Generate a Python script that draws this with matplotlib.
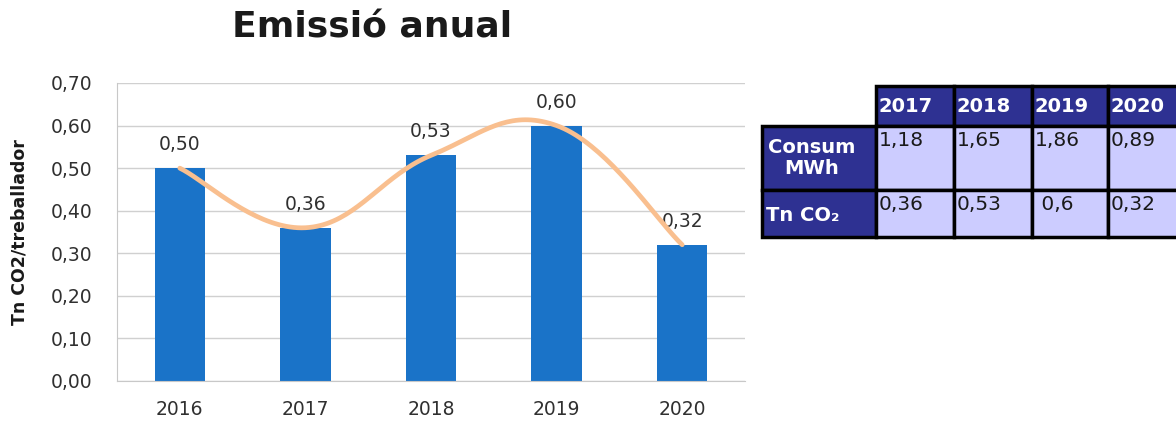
import numpy as np
import matplotlib.pyplot as plt
from matplotlib.patches import Rectangle

# chart data
years = ["2016", "2017", "2018", "2019", "2020"]
emissions = [0.50, 0.36, 0.53, 0.60, 0.32]

# table data
table_years = ["2017", "2018", "2019", "2020"]
row_labels = ["Consum\nMWh", "Tn CO\u2082"]
consum = ["1,18", "1,65", "1,86", "0,89"]
co2 = ["0,36", "0,53", " 0,6", "0,32"]


def fmt(v):
    return f"{v:.2f}".replace(".", ",")


def smooth(xs, ys, n=40, k=5.0):
    # Excel-like smoothed line (Catmull-Rom as cubic Bezier)
    pts = np.column_stack([xs, ys]).astype(float)
    out = []
    for i in range(len(pts) - 1):
        p0 = pts[i - 1] if i > 0 else pts[i]
        p1, p2 = pts[i], pts[i + 1]
        p3 = pts[i + 2] if i + 2 < len(pts) else pts[i + 1]
        c1 = p1 + (p2 - p0) / k
        c2 = p2 - (p3 - p1) / k
        t = np.linspace(0, 1, n)[:, None]
        seg = ((1 - t) ** 3) * p1 + 3 * ((1 - t) ** 2) * t * c1 + 3 * (1 - t) * t ** 2 * c2 + t ** 3 * p2
        out.append(seg)
    out = np.vstack(out)
    return out[:, 0], out[:, 1]


fig = plt.figure(figsize=(11.76, 4.24), dpi=100)
ax = fig.add_axes([117 / 1176, 43 / 424, 628 / 1176, 298 / 424])

x = np.arange(len(years))
ax.bar(x, emissions, width=0.4, color="#1a73c8", zorder=2)
for xi, v in zip(x, emissions):
    ax.annotate(fmt(v), (xi, v), xytext=(0, 10), textcoords="offset points",
                ha="center", va="bottom", fontsize=13.5, color="#303030", zorder=3)
sx, sy = smooth(x, emissions)
ax.plot(sx, sy, color="#f9bf8f", lw=3.4, solid_capstyle="round", zorder=4)

ax.set_xlim(-0.5, len(years) - 0.5)
ax.set_ylim(0, 0.70)
ax.set_yticks(np.arange(0, 0.71, 0.1))
ax.set_yticklabels([fmt(v) for v in np.arange(0, 0.71, 0.1)])
ax.set_xticks(x)
ax.set_xticklabels(years)
ax.tick_params(length=0, labelsize=13.5, labelcolor="#303030")
ax.tick_params(axis="y", pad=18)
ax.tick_params(axis="x", pad=14)
ax.grid(axis="y", color="#d0d0d0", lw=1, zorder=0)
ax.set_axisbelow(True)
for s in ["top", "right"]:
    ax.spines[s].set_visible(False)
for s in ["left", "bottom"]:
    ax.spines[s].set_color("#c8c8c8")
ax.set_ylabel("Tn CO2/treballador", fontsize=12.5, fontweight="bold", color="#1a1a1a")
ax.yaxis.set_label_coords(-88 / 628, 0.5)

fig.text(372 / 1176, 1 - 28 / 424, "Emissió anual", ha="center", va="center",
         fontsize=26, fontweight="bold", color="#1a1a1a")

# table drawn in pixel coordinates
tx = fig.add_axes([0, 0, 1, 1])
tx.set_xlim(0, 1176)
tx.set_ylim(424, 0)
tx.axis("off")
tx.patch.set_alpha(0)

navy = "#2e3192"
cell = "#ccccff"
col_x = [876, 954, 1032, 1108, 1186]
row_y = [86, 126, 190, 237]
lw = 2.5

for j, yr in enumerate(table_years):
    tx.add_patch(Rectangle((col_x[j], row_y[0]), col_x[j + 1] - col_x[j], row_y[1] - row_y[0],
                           facecolor=navy, edgecolor="black", lw=lw))
    tx.text(col_x[j] + 3, (row_y[0] + row_y[1]) / 2 + 1, yr, ha="left", va="center",
            fontsize=14, fontweight="bold", color="white")

for i, (lab, vals) in enumerate(zip(row_labels, [consum, co2])):
    y0, y1 = row_y[i + 1], row_y[i + 2]
    tx.add_patch(Rectangle((762, y0), col_x[0] - 762, y1 - y0,
                           facecolor=navy, edgecolor="black", lw=lw))
    if i == 0:
        tx.text(812, (y0 + y1) / 2, lab, ha="center", va="center", multialignment="center",
                fontsize=14, fontweight="bold", color="white", linespacing=1.1)
    else:
        tx.text(766, (y0 + y1) / 2 + 2, lab, ha="left", va="center",
                fontsize=14, fontweight="bold", color="white")
    for j, v in enumerate(vals):
        tx.add_patch(Rectangle((col_x[j], y0), col_x[j + 1] - col_x[j], y1 - y0,
                               facecolor=cell, edgecolor="black", lw=lw))
        tx.text(col_x[j] + 3, y0 + 5, v, ha="left", va="top",
                fontsize=14.5, color="#1a1a1a")

fig.savefig("out.png", dpi=100)
